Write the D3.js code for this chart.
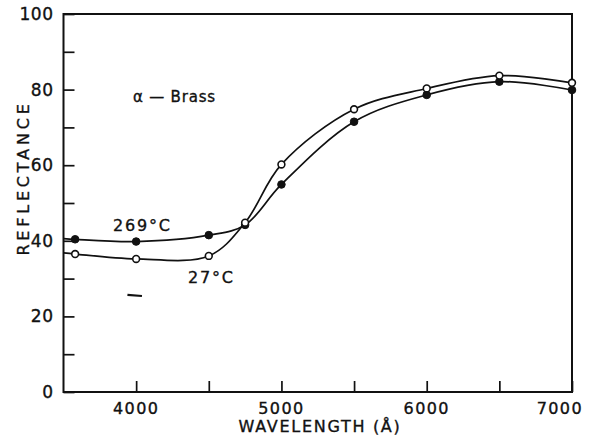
<!DOCTYPE html>
<html>
<head>
<meta charset="utf-8">
<script src="https://cdn.jsdelivr.net/npm/d3@7"></script>
<style>
  html, body { margin: 0; padding: 0; background: #fff; }
  svg { display: block; }
  text { font-family: "DejaVu Sans", sans-serif; fill: #111; stroke: #111; stroke-width: 0.35; }
</style>
</head>
<body>
<svg id="chart" width="589" height="437"></svg>
<script>
// ---- data ----
const wavelengths = [3580, 4000, 4500, 4750, 5000, 5500, 6000, 6500, 7000];
const hot269 = [40.4, 39.8, 41.5, 44.2, 54.9, 71.5, 78.6, 82.1, 79.9];   // filled circles
const room27 = [36.5, 35.2, 36.0, 44.8, 60.2, 74.8, 80.3, 83.7, 81.8];   // open circles
const axisStartWavelength = 3500;
const hot269AtAxis = 40.6;
const room27AtAxis = 36.8;
const xTicks = [4000, 4500, 5000, 5500, 6000, 6500, 7000];
const xTickLabels = [4000, 5000, 6000, 7000];
const yTicks = [0, 10, 20, 30, 40, 50, 60, 70, 80, 90, 100];
const yTickLabels = [0, 20, 40, 60, 80, 100];

const svg = d3.select("#chart");
const x = d3.scaleLinear().domain([3500, 7000]).range([63.5, 572]);
const y = d3.scaleLinear().domain([0, 100]).range([392, 14]);

const ink = "#111";

// frame
svg.append("rect")
  .attr("x", x(3500)).attr("y", y(100))
  .attr("width", x(7000) - x(3500)).attr("height", y(0) - y(100))
  .attr("fill", "none").attr("stroke", ink).attr("stroke-width", 2);

// x ticks (inward)
const xAxis = d3.axisBottom(x).tickValues(xTicks).tickSizeInner(-11).tickSizeOuter(0).tickFormat("");
const gx = svg.append("g").attr("transform", `translate(0,${y(0)})`).call(xAxis);
gx.select(".domain").remove();
gx.selectAll("line").attr("stroke", ink).attr("stroke-width", 1.7);

// x tick labels
svg.append("g").selectAll("text").data(xTickLabels).join("text")
  .attr("x", d => d === 7000 ? x(d) + 11 : x(d))
  .attr("y", y(0) + 22)
  .attr("text-anchor", d => d === 7000 ? "end" : "middle")
  .attr("font-size", 16).attr("letter-spacing", 1.4)
  .text(d => d);

// y ticks (inward)
const yAxis = d3.axisLeft(y).tickValues(yTicks).tickSizeInner(-11).tickSizeOuter(0).tickFormat("");
const gy = svg.append("g").attr("transform", `translate(${x(3500)},0)`).call(yAxis);
gy.select(".domain").remove();
gy.selectAll("line").attr("stroke", ink).attr("stroke-width", 1.7);

svg.append("g").selectAll("text").data(yTickLabels).join("text")
  .attr("x", x(3500) - 10)
  .attr("y", d => y(d) + 6)
  .attr("text-anchor", "end")
  .attr("font-size", 17).attr("letter-spacing", 0.5)
  .text(d => d);

// axis titles
svg.append("text")
  .attr("x", 320).attr("y", 432)
  .attr("text-anchor", "middle")
  .attr("font-size", 16).attr("letter-spacing", 1.7)
  .text("WAVELENGTH (Å)");

svg.append("text")
  .attr("transform", "translate(29,178) rotate(-90)")
  .attr("text-anchor", "middle")
  .attr("font-size", 16).attr("letter-spacing", 3.8)
  .text("REFLECTANCE");

// curves
const line = d3.line()
  .x(d => x(d[0])).y(d => y(d[1]))
  .curve(d3.curveCatmullRom.alpha(0.5));

const hotPts = [[axisStartWavelength, hot269AtAxis], ...wavelengths.map((w, i) => [w, hot269[i]])];
const roomPts = [[axisStartWavelength, room27AtAxis], ...wavelengths.map((w, i) => [w, room27[i]])];

svg.append("path").attr("d", line(hotPts))
  .attr("fill", "none").attr("stroke", ink).attr("stroke-width", 1.7);
svg.append("path").attr("d", line(roomPts))
  .attr("fill", "none").attr("stroke", ink).attr("stroke-width", 1.7);

// markers
svg.append("g").selectAll("circle").data(wavelengths.map((w, i) => [w, hot269[i]])).join("circle")
  .attr("cx", d => x(d[0])).attr("cy", d => y(d[1])).attr("r", 3.8)
  .attr("fill", ink).attr("stroke", ink).attr("stroke-width", 1);

svg.append("g").selectAll("circle").data(wavelengths.map((w, i) => [w, room27[i]])).join("circle")
  .attr("cx", d => x(d[0])).attr("cy", d => y(d[1])).attr("r", 3.4)
  .attr("fill", "#fff").attr("stroke", ink).attr("stroke-width", 1.6);

// annotations
svg.append("text").attr("x", 133).attr("y", 102)
  .attr("font-size", 15).attr("letter-spacing", 0.8)
  .text("α — Brass");
svg.append("text").attr("x", 113).attr("y", 231)
  .attr("font-size", 16).attr("letter-spacing", 1.8)
  .text("269°C");
svg.append("text").attr("x", 188).attr("y", 283)
  .attr("font-size", 16).attr("letter-spacing", 1.8)
  .text("27°C");

// small stray dash present in the original figure
svg.append("line")
  .attr("x1", x(3940)).attr("x2", x(4040))
  .attr("y1", y(25.7)).attr("y2", y(25.4))
  .attr("stroke", ink).attr("stroke-width", 2.2);
</script>
</body>
</html>
